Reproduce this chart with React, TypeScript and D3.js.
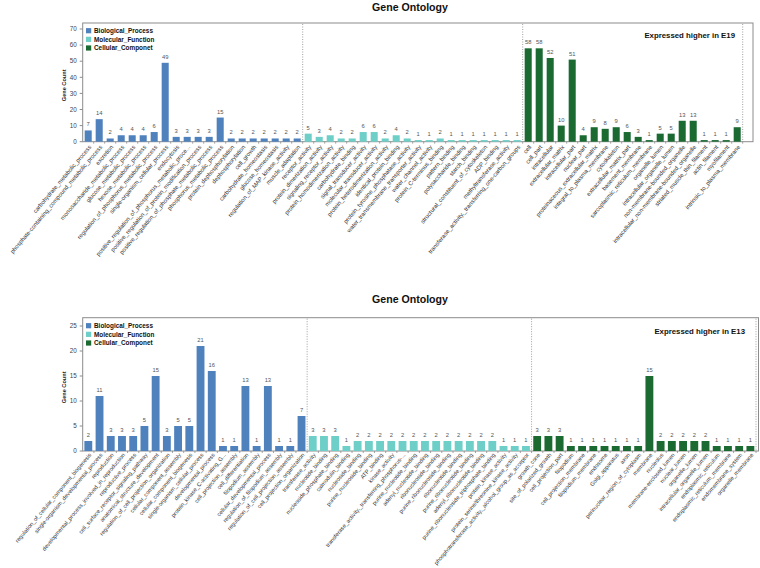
import React from "react";
import * as d3 from "d3";

const groupNames = ["Biological_Process", "Molecular_Function", "Cellular_Componet"];
const groupColors = ["#4f81bd", "#6dcfc7", "#1b6a32"];

// ---- Top chart (E19) ----
const e19BPNames = [
  "carbohydrate_metabolic_process",
  "phosphate-containing_compound_metabolic_process",
  "excretion",
  "monosaccharide_metabolic_process",
  "glucose_metabolic_process",
  "hexose_metabolic_process",
  "regulation_of_phosphorus_metabolic_process",
  "single-organism_cellular_process",
  "endocytosis",
  "positive_regulation_of_phosphorus_metabolic_proce...",
  "positive_regulation_of_protein_modification_process",
  "positive_regulation_of_phosphate_metabolic_process",
  "phosphorus_metabolic_process",
  "protein_dephosphorylation",
  "dephosphorylation",
  "cell_growth",
  "carbohydrate_homeostasis",
  "glucose_homeostasis",
  "regulation_of_MAP_kinase_activity",
  "muscle_adaptation",
];
const e19BPValues = [7, 14, 2, 4, 4, 4, 6, 49, 3, 3, 3, 3, 15, 2, 2, 2, 2, 2, 2, 2];

const e19MFNames = [
  "receptor_activity",
  "protein_dimerization_activity",
  "signaling_receptor_activity",
  "protein_homodimerization_activity",
  "carbohydrate_binding",
  "signal_transducer_activity",
  "molecular_transducer_activity",
  "protein_heterodimerization_activity",
  "identical_protein_binding",
  "protein_tyrosine_phosphatase_activity",
  "water_transmembrane_transporter_activity",
  "water_channel_activity",
  "protein_C-terminus_binding",
  "pattern_binding",
  "polysaccharide_binding",
  "starch_binding",
  "structural_constituent_of_cytoskeleton",
  "ADP_binding",
  "methyltransferase_activity",
  "transferase_activity,_transferring_one-carbon_groups",
];
const e19MFValues = [5, 3, 4, 2, 2, 6, 6, 2, 4, 2, 1, 1, 2, 1, 1, 1, 1, 1, 1, 1];

const e19CCNames = [
  "cell",
  "cell_part",
  "intracellular",
  "extracellular_matrix",
  "intracellular_part",
  "nuclear_part",
  "proteinaceous_extracellular_matrix",
  "integral_to_plasma_membrane",
  "cytoskeleton",
  "extracellular_matrix_part",
  "basement_membrane",
  "sarcoplasmic_reticulum_membrane",
  "organelle_lumen",
  "intracellular_organelle_lumen",
  "non-membrane-bounded_organelle",
  "intracellular_non-membrane-bounded_organelle",
  "striated_muscle_thin_filament",
  "actin_filament",
  "myofilament",
  "intrinsic_to_plasma_membrane",
];
const e19CCValues = [58, 58, 52, 10, 51, 4, 9, 8, 9, 6, 3, 1, 5, 5, 13, 13, 1, 1, 1, 9];
const e19Ticks = [0, 10, 20, 30, 40, 50, 60, 70];

// ---- Bottom chart (E13) ----
const e13BPNames = [
  "regulation_of_cellular_component_biogenesis",
  "single-organism_developmental_process",
  "reproduction",
  "developmental_process_involved_in_reproduction",
  "reproductive_process",
  "cell_surface_receptor_signaling_pathway",
  "anatomical_structure_development",
  "regulation_of_cell_projection_organization",
  "cellular_component_assembly",
  "cellular_component_biogenesis",
  "single-organism_cellular_process",
  "developmental_process",
  "protein_kinase_C-activating_G...",
  "cell_projection_assembly",
  "cell_differentiation",
  "filopodium_assembly",
  "cellular_developmental_process",
  "regulation_of_filopodium_assembly",
  "regulation_of_cell_projection_assembly",
  "cell_projection_organization",
];
const e13BPValues = [2, 11, 3, 3, 3, 5, 15, 3, 5, 5, 21, 16, 1, 1, 13, 1, 13, 1, 1, 7];

const e13MFNames = [
  "transferase_activity",
  "nucleotide_binding",
  "nucleoside_phosphate_binding",
  "calmodulin_binding",
  "nucleoside_binding",
  "purine_nucleoside_binding",
  "ATP_binding",
  "kinase_activity",
  "transferase_activity,_transferring_phosphorus-...",
  "purine_nucleotide_binding",
  "adenyl_nucleotide_binding",
  "ribonucleoside_binding",
  "purine_ribonucleoside_binding",
  "ribonucleotide_binding",
  "purine_ribonucleotide_binding",
  "adenyl_ribonucleotide_binding",
  "purine_ribonucleoside_triphosphate_binding",
  "protein_kinase_activity",
  "protein_serine/threonine_kinase_activity",
  "phosphotransferase_activity,_alcohol_group_as_acceptor",
];
const e13MFValues = [3, 3, 3, 1, 2, 2, 2, 2, 2, 2, 2, 2, 2, 2, 2, 2, 2, 1, 1, 1];

const e13CCNames = [
  "growth_cone",
  "site_of_polarized_growth",
  "cell_projection_part",
  "filopodium",
  "cell_projection_membrane",
  "filopodium_membrane",
  "endosome",
  "Golgi_apparatus",
  "axon",
  "perinuclear_region_of_cytoplasm",
  "membrane",
  "nucleolus",
  "membrane-enclosed_lumen",
  "nuclear_lumen",
  "organelle_lumen",
  "intracellular_organelle_lumen",
  "endoplasmic_reticulum",
  "endoplasmic_reticulum_membrane",
  "endomembrane_system",
  "organelle_membrane",
];
const e13CCValues = [3, 3, 3, 1, 1, 1, 1, 1, 1, 1, 15, 2, 2, 2, 2, 2, 1, 1, 1, 1];
const e13Ticks = [0, 5, 10, 15, 20, 25];

const FONT = "'Liberation Sans', Arial, sans-serif";

type PanelProps = {
  names: string[][];
  values: number[][];
  ticks: number[];
  yMaxTick: number;
  y0: number;
  yTickTop: number;
  frameTop: number;
  frameRight: number;
  bandLeft: number;
  bandRight: number;
  padding: number;
  titleY: number;
  note: string;
  noteX: number;
  noteY: number;
  legendY: number;
  labelY: number;
  labelFont: number;
};

function Panel(p: PanelProps) {
  const rows: { name: string; value: number; g: number; key: string }[] = [];
  p.names.forEach((arr, g) =>
    arr.forEach((name, i) => rows.push({ name, value: p.values[g][i], g, key: g + "_" + i }))
  );
  const x = d3
    .scaleBand<string>()
    .domain(rows.map((r) => r.key))
    .range([p.bandLeft, p.bandRight])
    .paddingInner(p.padding)
    .paddingOuter(p.padding / 2);
  const y = d3.scaleLinear().domain([0, p.yMaxTick]).range([p.y0, p.yTickTop]);
  const step = x.step();
  const axisX = p.bandLeft;
  const boundaries = [1, 2, 3].map((k) => p.bandLeft + ((p.bandRight - p.bandLeft) * k) / 3);

  return (
    <g>
      <text
        x={410}
        y={p.titleY}
        textAnchor="middle"
        fontFamily={FONT}
        fontWeight="bold"
        fontSize={10.6}
        fill="#111"
      >
        Gene Ontology
      </text>
      <rect
        x={axisX}
        y={p.frameTop}
        width={p.frameRight - axisX}
        height={p.y0 - p.frameTop}
        fill="none"
        stroke="#8c8c8c"
        strokeWidth={1}
      />
      {boundaries.map((bx, i) => (
        <line
          key={"sep" + i}
          x1={bx}
          x2={bx}
          y1={p.frameTop + 1}
          y2={p.y0}
          stroke="#888"
          strokeWidth={0.8}
          strokeDasharray="1,1.5"
        />
      ))}
      {p.ticks.map((t) => (
        <g key={"yt" + t}>
          <line x1={axisX - 3} x2={axisX} y1={y(t)} y2={y(t)} stroke="#8c8c8c" />
          <text
            x={axisX - 6}
            y={y(t)}
            dy="0.35em"
            textAnchor="end"
            fontFamily={FONT}
            fontSize={6.3}
            fill="#444"
          >
            {t}
          </text>
        </g>
      ))}
      <text
        transform={`translate(66,${(p.frameTop + p.y0) / 2 + 3}) rotate(-90)`}
        textAnchor="middle"
        fontFamily={FONT}
        fontWeight="bold"
        fontSize={5.6}
        fill="#222"
      >
        Gene Count
      </text>
      {rows.map((r) => {
        const bx = x(r.key) as number;
        return (
          <g key={"b" + r.key}>
            <rect
              x={bx}
              y={y(r.value)}
              width={x.bandwidth()}
              height={p.y0 - y(r.value)}
              fill={groupColors[r.g]}
            />
            <text
              x={bx + x.bandwidth() / 2}
              y={y(r.value) - 4}
              textAnchor="middle"
              fontFamily={FONT}
              fontSize={5.8}
              fill="#555"
            >
              {r.value}
            </text>
          </g>
        );
      })}
      {rows.map((r, i) => (
        <line
          key={"xt" + r.key}
          x1={p.bandLeft + step * (i + 1)}
          x2={p.bandLeft + step * (i + 1)}
          y1={p.y0}
          y2={p.y0 + 2}
          stroke="#8c8c8c"
          strokeWidth={0.8}
        />
      ))}
      {rows.map((r) => {
        const cx = (x(r.key) as number) + x.bandwidth() / 2;
        return (
          <text
            key={"xl" + r.key}
            transform={`translate(${cx + 2},${p.labelY}) rotate(-50)`}
            textAnchor="end"
            dy="0.3em"
            fontFamily={FONT}
            fontSize={p.labelFont}
            fill="#333"
          >
            {r.name}
          </text>
        );
      })}
      {groupNames.map((gname, i) => (
        <g key={"lg" + i}>
          <rect x={86} y={p.legendY + i * 8.65 - 2.6} width={5.2} height={5.2} fill={groupColors[i]} />
          <text
            x={94}
            y={p.legendY + i * 8.65}
            dy="0.35em"
            fontFamily={FONT}
            fontWeight="bold"
            fontSize={6.4}
            fill="#111"
          >
            {gname}
          </text>
        </g>
      ))}
      <text
        x={p.noteX}
        y={p.noteY}
        textAnchor="end"
        fontFamily={FONT}
        fontWeight="bold"
        fontSize={7.8}
        fill="#111"
      >
        {p.note}
      </text>
    </g>
  );
}

export default function App() {
  return (
    <svg
      width={760}
      height={568}
      style={{ position: "absolute", left: 0, top: 0, background: "#fff" }}
    >
      <rect width={760} height={568} fill="#fff" />
      <Panel
        names={[e19BPNames, e19MFNames, e19CCNames]}
        values={[e19BPValues, e19MFValues, e19CCValues]}
        ticks={e19Ticks}
        yMaxTick={70}
        y0={141.7}
        yTickTop={29}
        frameTop={23}
        frameRight={753}
        bandLeft={82.7}
        bandRight={742.7}
        padding={0.36}
        titleY={11}
        note="Expressed higher in E19"
        noteX={735}
        noteY={38}
        legendY={30.7}
        labelY={146}
        labelFont={5.9}
      />
      <Panel
        names={[e13BPNames, e13MFNames, e13CCNames]}
        values={[e13BPValues, e13MFValues, e13CCValues]}
        ticks={e13Ticks}
        yMaxTick={25}
        y0={451}
        yTickTop={326}
        frameTop={317.7}
        frameRight={758.5}
        bandLeft={82.7}
        bandRight={756}
        padding={0.3}
        titleY={303}
        note="Expressed higher in E13"
        noteX={745}
        noteY={334}
        legendY={325.7}
        labelY={454}
        labelFont={5.65}
      />
    </svg>
  );
}
